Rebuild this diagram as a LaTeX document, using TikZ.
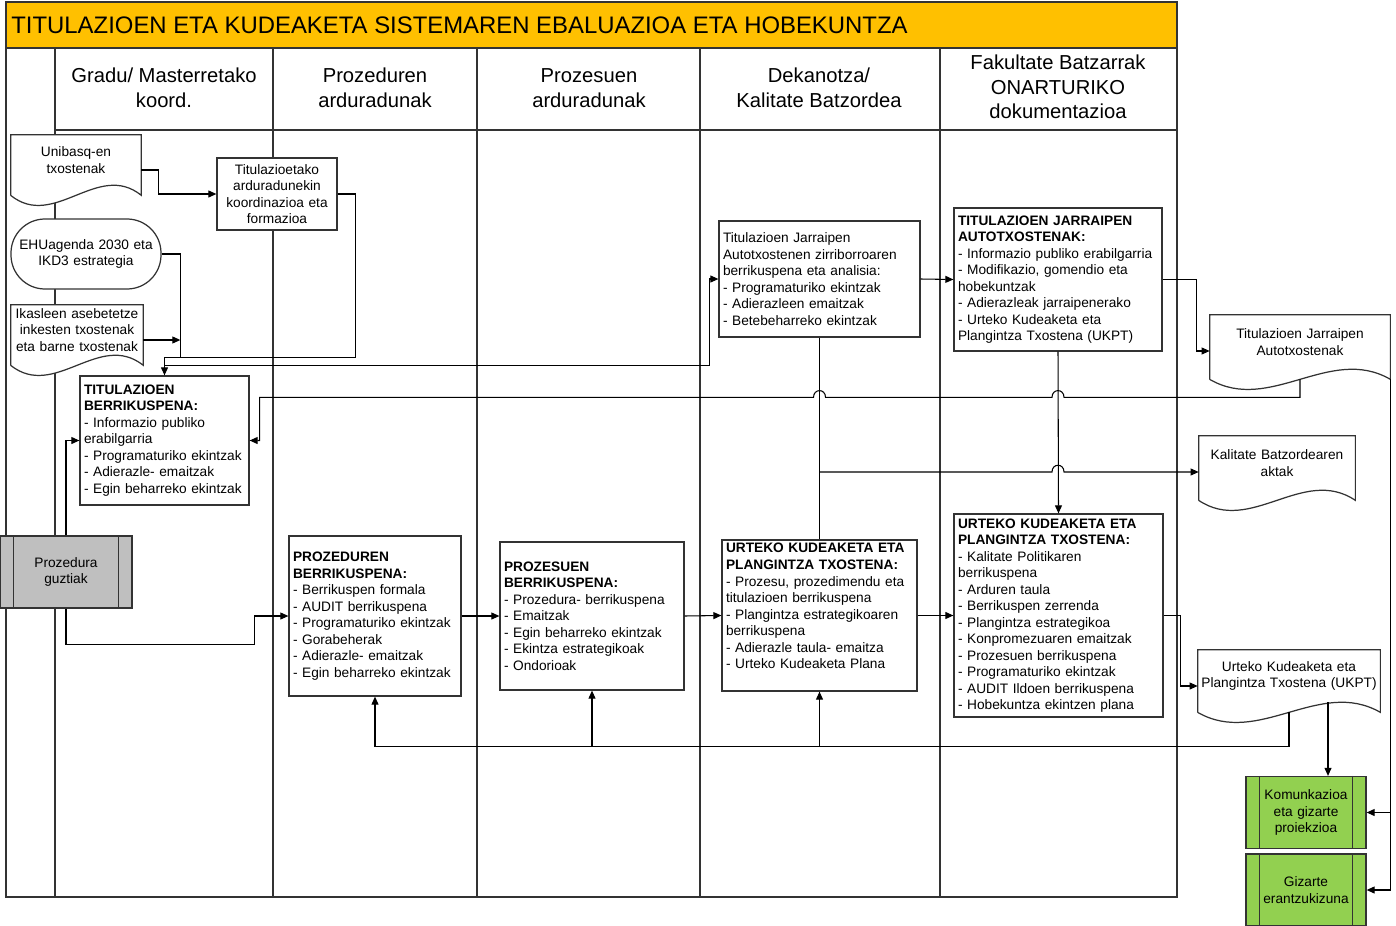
\documentclass[tikz,border=0pt]{standalone}
\usepackage{fontspec}
\setmainfont{Liberation Sans}
\usetikzlibrary{arrows.meta,calc}
\newlength\pxu
\setlength\pxu{0.02cm}
\definecolor{titlebar}{HTML}{FFC000}
\definecolor{linegray}{HTML}{333333}
\definecolor{procgray}{HTML}{BFBFBF}
\definecolor{procgreen}{HTML}{92D050}
\newcommand\boxfont{\fontsize{7.8}{9.4}\selectfont}
\newcommand\headfont{\fontsize{11.5}{14}\selectfont}
\pgfdeclarelayer{lanes}
\pgfdeclarelayer{docs}
\pgfsetlayers{lanes,docs,main}
%% document shape round a node, wavy bottom
\newcommand\docoutline[1]{%
  \draw[docline] ($(#1.south west)+(0,10)$) -- (#1.north west) -- (#1.north east)
    -- ($(#1.south east)+(0,10)$)
    .. controls ($(#1.south east)!1/3!(#1.south west)+(0,-25)$)
    and ($(#1.south east)!2/3!(#1.south west)+(0,45)$) .. ($(#1.south west)+(0,10)$);}
%% inner bars of a predefined process
\newcommand\sidebars[1]{%
  \draw[boxline] ($(#1.north west)+(14,0)$) -- ($(#1.south west)+(14,0)$)
    ($(#1.north east)+(-14,0)$) -- ($(#1.south east)+(-14,0)$);}
\begin{document}
\begin{tikzpicture}[x=0.02cm,y=-0.02cm,
    lane/.style={draw=linegray,line width=0.75pt},
    boxline/.style={draw=linegray,line width=0.7pt},
    docline/.style={draw=linegray,line width=0.7pt,fill=white},
    line/.style={draw=black,line width=0.6pt},
    arr/.style={line,-{Triangle[length=4.6pt,width=4pt]}},
    head/.style={font=\headfont,align=center,inner sep=0pt},
    box/.style 2 args={boxline,fill=white,font=\boxfont,align=left,
      inner xsep=4\pxu,inner ysep=0pt,text width=#1\pxu,minimum height=#2\pxu},
    cbox/.style 2 args={box={#1}{#2},align=center},
    docnode/.style 2 args={font=\boxfont,align=center,inner xsep=4\pxu,
      inner ysep=0pt,text width=#1\pxu,minimum height=#2\pxu},
    procbox/.style={cbox={#1}{72},fill=procgray}]
  \useasboundingbox (0,0) rectangle (1396,926);

  %% swimlane table
  \begin{pgfonlayer}{lanes}
    \fill[titlebar] (6,2) rectangle (1177,48);
    \draw[lane] (6,2) rectangle (1177,897);
    \draw[lane] (6,48) -- (1177,48);
    \draw[lane] (55,130) -- (1177,130);
    \foreach \x in {55,273,477,700,940}
      \draw[lane] (\x,48) -- (\x,897);
  \end{pgfonlayer}
  \node[anchor=west,inner sep=0pt,font=\fontsize{13.6}{16}\selectfont] (title) at (11,25)
    {TITULAZIOEN ETA KUDEAKETA SISTEMAREN EBALUAZIOA ETA HOBEKUNTZA};
  \node[head] (hgradu) at (164,88) {Gradu/ Masterretako\\koord.};
  \node[head] (hprozd) at (375,88) {Prozeduren\\arduradunak};
  \node[head] (hprozs) at (589,88) {Prozesuen\\arduradunak};
  \node[head] (hdekan) at (819,88) {Dekanotza/\\Kalitate Batzordea};
  \node[head] (hfakul) at (1058,87) {Fakultate Batzarrak\\ONARTURIKO\\dokumentazioa};

  %% inputs
  \node[docnode={122}{50}] (uni) at (76,160) {Unibasq-en\\txostenak};
  \node[cbox={142}{70},rounded corners=34\pxu] (ehu) at (86,254) {EHUagenda 2030 eta\\IKD3 estrategia};
  \node[docnode={130}{50},inner xsep=1\pxu] (ika) at (77,330) {Ikasleen asebetetze\\inkesten txostenak\\eta barne txostenak};
  \node[cbox={112}{72}] (koord) at (277,194) {Titulazioetako\\arduradunekin\\koordinazioa eta\\formazioa};
  \node[box={161}{129}] (bk) at (164.5,440.5) {\textbf{TITULAZIOEN}\\\textbf{BERRIKUSPENA:}\\- Informazio publiko\\erabilgarria\\- Programaturiko ekintzak\\- Adierazle- emaitzak\\- Egin beharreko ekintzak};
  \node[procbox={124}] (pg) at (66,572) {Prozedura\\guztiak};
  \sidebars{pg}

  %% reviews
  \node[box={164}{160}] (pzd) at (375,616) {\textbf{PROZEDUREN}\\\textbf{BERRIKUSPENA:}\\- Berrikuspen formala\\- AUDIT berrikuspena\\- Programaturiko ekintzak\\- Gorabeherak\\- Adierazle- emaitzak\\- Egin beharreko ekintzak};
  \node[box={176}{148}] (pzs) at (592,616) {\textbf{PROZESUEN}\\\textbf{BERRIKUSPENA:}\\- Prozedura- berrikuspena\\- Emaitzak\\- Egin beharreko ekintzak\\- Ekintza estrategikoak\\- Ondorioak};
  \node[box={187}{151}] (dek) at (819.5,615.5) {\textbf{URTEKO KUDEAKETA ETA}\\\textbf{PLANGINTZA TXOSTENA:}\\- Prozesu, prozedimendu eta\\titulazioen berrikuspena\\- Plangintza estrategikoaren\\berrikuspena\\- Adierazle taula- emaitza\\- Urteko Kudeaketa Plana\\[1.4pt]\mbox{}};
  \node[box={193}{116}] (zir) at (819.5,279) {Titulazioen Jarraipen\\Autotxostenen zirriborroaren\\berrikuspena eta analisia:\\- Programaturiko ekintzak\\- Adierazleen emaitzak\\- Betebeharreko ekintzak};
  \node[box={200}{143}] (aut) at (1058,279.5) {\textbf{TITULAZIOEN JARRAIPEN}\\\textbf{AUTOTXOSTENAK:}\\- Informazio publiko erabilgarria\\- Modifikazio, gomendio eta\\hobekuntzak\\- Adierazleak jarraipenerako\\- Urteko Kudeaketa eta\\Plangintza Txostena (UKPT)};
  \node[box={201}{203}] (urf) at (1058.5,615.5) {\textbf{URTEKO KUDEAKETA ETA}\\\textbf{PLANGINTZA TXOSTENA:}\\- Kalitate Politikaren\\berrikuspena\\- Arduren taula\\- Berrikuspen zerrenda\\- Plangintza estrategikoa\\- Konpromezuaren emaitzak\\- Prozesuen berrikuspena\\- Programaturiko ekintzak\\- AUDIT Ildoen berrikuspena\\- Hobekuntza ekintzen plana};

  %% outputs
  \node[docnode={172}{54}] (tja) at (1300,342) {Titulazioen Jarraipen\\Autotxostenak};
  \node[docnode={148}{54}] (kba) at (1277,463) {Kalitate Batzordearen\\aktak};
  \node[docnode={180}{52},inner xsep=1\pxu] (ukpt) at (1289,676) {Urteko Kudeaketa eta\\Plangintza Txostena (UKPT)};
  \node[procbox={112},fill=procgreen] (kom) at (1306,812.5) {Komunkazioa\\eta gizarte\\proiekzioa};
  \node[procbox={112},fill=procgreen] (giz) at (1306,890) {Gizarte\\erantzukizuna};
  \sidebars{kom}
  \sidebars{giz}
  \begin{pgfonlayer}{docs}
    \docoutline{uni}
    \docoutline{ika}
    \docoutline{tja}
    \docoutline{kba}
    \docoutline{ukpt}
  \end{pgfonlayer}

  %% connectors, left part
  \coordinate (j1) at ($(bk.north)+(0,-18)$);
  \coordinate (j2) at ($(bk.north)+(0,-10)$);
  \draw[arr] ($(uni.east)+(0,10)$) -- ++(17,0) |- (koord.west);
  \draw[arr] (koord.east) -- ++(18,0) |- (j1) -- (bk.north);
  \draw[line] (ehu.east) -- ++(19,0) |- (j1);
  \draw[arr] ($(ika.east)+(0,10)$) -- ++(37,0);
  \draw[arr] (bk.north) -- (j2) -| ($(zir.west)+(-9,0)$) -- (zir.west);
  \draw[arr] (pg.north) |- (bk.west);
  \draw[arr] (pg.south) -- ++(0,36) -| ($(pzd.west)+(-34,0)$) -- (pzd.west);

  %% main flow
  \draw[arr] (pzd.east) -- (pzs.west);
  \draw[arr] (pzs.east) -- (dek.west);
  \draw[arr] (dek.east) -- (urf.west);
  \draw[arr] (zir.east) -- (aut.west);
  \draw[line] (zir.south) -- (dek.north);
  \draw[arr] (aut.south) -- (urf.north);
  \draw[arr] (aut.east) -- ++(34,0) |- ($(tja.west)+(0,9)$);
  \draw[arr] (urf.east) -- ++(17,0) |- ($(ukpt.west)+(0,10)$);

  %% feedback lines with hops
  \coordinate (j3) at ($(tja.south)+(0,28)$);
  \coordinate (h1) at (aut.south |- j3);
  \coordinate (h2) at (zir.south |- j3);
  \draw[arr] ($(tja.south)+(0,10)$) -- (j3) -- ($(h1)+(6,0)$)
    .. controls +(0,-9) and +(0,-9) .. ($(h1)+(-6,0)$) -- ($(h2)+(6,0)$)
    .. controls +(0,-9) and +(0,-9) .. ($(h2)+(-6,0)$) -| ($(bk.east)+(10,0)$) -- (bk.east);
  \coordinate (kin) at ($(kba.west)+(0,9)$);
  \coordinate (h3) at (aut.south |- kin);
  \draw[arr] (zir.south |- kin) -- ($(h3)+(-6,0)$)
    .. controls +(0,-9) and +(0,-9) .. ($(h3)+(6,0)$) -- (kin);
  \coordinate (j4) at ($(ukpt.south)+(0,44)$);
  \draw[arr] ($(ukpt.south)+(0,10)$) -- (j4) -| (pzd.south);
  \draw[arr] (pzs.south |- j4) -- (pzs.south);
  \draw[arr] (dek.south |- j4) -- (dek.south);

  %% right side
  \coordinate (kin2) at ($(kom.north)+(22,0)$);
  \draw[arr] (kin2 |- ukpt.south) -- (kin2);
  \draw[arr] ($(tja.south east)+(0,10)$) |- (kom.east);
  \draw[arr] ($(tja.south east)+(0,10)$) |- (giz.east);
\end{tikzpicture}
\end{document}
